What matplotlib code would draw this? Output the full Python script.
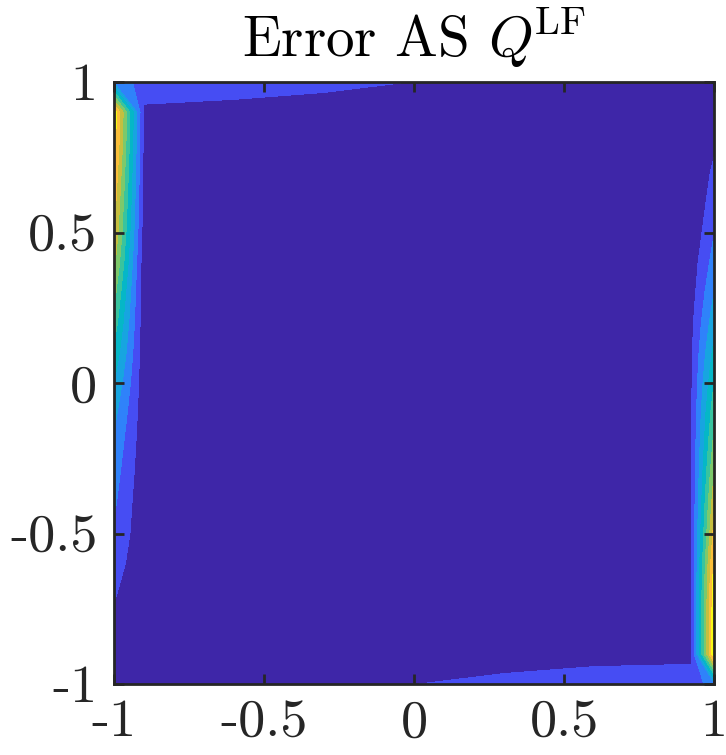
import numpy as np
import matplotlib
matplotlib.use("Agg")
import matplotlib.pyplot as plt
from matplotlib.colors import LinearSegmentedColormap

# ---------------- data ----------------
x_nodes = [-1.0, -0.9, -0.6, -0.3, 0.0, 0.3, 0.6, 0.925, 1.0]
y_nodes = [-1.0, -0.9, -0.8, -0.7, -0.6, -0.5, -0.4, -0.3, -0.2, -0.1, 0.0,
           0.1, 0.2, 0.3, 0.4, 0.5, 0.6, 0.7, 0.8, 0.9, 1.0]

# error values per column (bottom -> top)
err_x_m100 = [0.04, 0.05, 0.07, 0.11, 0.15, 0.185, 0.215, 0.245, 0.28, 0.33, 0.40,
              0.48, 0.56, 0.64, 0.73, 0.80, 0.85, 0.90, 0.95, 0.97, 0.28]
err_x_m090 = [0.01, 0.01, 0.01, 0.01, 0.018, 0.025, 0.023, 0.029, 0.033, 0.035, 0.034,
              0.033, 0.031, 0.026, 0.030, 0.047, 0.061, 0.067, 0.074, 0.082, 0.15]
err_x_m060 = [0.06, 0.02, 0.02, 0.02, 0.02, 0.02, 0.02, 0.02, 0.02, 0.02, 0.02,
              0.02, 0.02, 0.02, 0.02, 0.02, 0.03, 0.04, 0.05, 0.07, 0.141]
err_x_m030 = [0.08, 0.03, 0.02, 0.02, 0.02, 0.02, 0.02, 0.02, 0.02, 0.02, 0.02,
              0.02, 0.02, 0.02, 0.02, 0.02, 0.02, 0.03, 0.04, 0.07, 0.116]
err_x_000 = [0.099, 0.04, 0.02, 0.02, 0.02, 0.02, 0.02, 0.02, 0.02, 0.02, 0.02,
             0.02, 0.02, 0.02, 0.02, 0.02, 0.02, 0.02, 0.03, 0.06, 0.099]
err_x_p030 = [0.116, 0.07, 0.04, 0.03, 0.02, 0.02, 0.02, 0.02, 0.02, 0.02, 0.02,
              0.02, 0.02, 0.02, 0.02, 0.02, 0.02, 0.02, 0.02, 0.04, 0.08]
err_x_p060 = [0.141, 0.07, 0.05, 0.04, 0.03, 0.02, 0.02, 0.02, 0.02, 0.02, 0.02,
              0.02, 0.02, 0.02, 0.02, 0.02, 0.02, 0.02, 0.02, 0.03, 0.06]
err_x_p0925 = [0.115, 0.092, 0.095, 0.095, 0.095, 0.095, 0.095, 0.095, 0.095, 0.094, 0.09,
               0.085, 0.075, 0.055, 0.042, 0.017, 0.0, 0.0, 0.0, 0.0, 0.0]
err_x_p100 = [0.27, 0.99, 0.99, 0.97, 0.92, 0.84, 0.77, 0.70, 0.63, 0.57, 0.50,
              0.43, 0.36, 0.30, 0.24, 0.195, 0.155, 0.12, 0.08, 0.05, 0.04]

contour_levels = [0.0, 0.1, 0.2, 0.3, 0.4, 0.5, 0.6, 0.7, 0.8, 0.9, 1.0]

tick_values = [-1, -0.5, 0, 0.5, 1]
tick_labels = ["-1", "-0.5", "0", "0.5", "1"]
title_text = r"Error AS $Q^{\!\mathrm{LF}}$"

# ---------------- style ----------------
parula_anchors = [
    (0.000, (0.2422, 0.1504, 0.6603)),
    (0.050, (0.2670, 0.2260, 0.8500)),
    (0.111, (0.2760, 0.3050, 0.9560)),
    (0.170, (0.2500, 0.4100, 0.9950)),
    (0.222, (0.1800, 0.5150, 0.9800)),
    (0.280, (0.1500, 0.5900, 0.9200)),
    (0.333, (0.0900, 0.6450, 0.8800)),
    (0.400, (0.0400, 0.6900, 0.8300)),
    (0.444, (0.0200, 0.7200, 0.7800)),
    (0.500, (0.1200, 0.7500, 0.7100)),
    (0.556, (0.2200, 0.7700, 0.6200)),
    (0.611, (0.3500, 0.7900, 0.5200)),
    (0.667, (0.4900, 0.7900, 0.4200)),
    (0.722, (0.6400, 0.7750, 0.3200)),
    (0.778, (0.7700, 0.7500, 0.2500)),
    (0.833, (0.8800, 0.7350, 0.2100)),
    (0.889, (0.9850, 0.7450, 0.2300)),
    (0.944, (0.9700, 0.8600, 0.1600)),
    (1.000, (0.9769, 0.9839, 0.0805)),
]
parula = LinearSegmentedColormap.from_list("parula", parula_anchors)

plt.rcParams["mathtext.fontset"] = "cm"
plt.rcParams["font.family"] = ["cmr10", "DejaVu Serif"]
plt.rcParams["axes.unicode_minus"] = False

X, Y = np.meshgrid(np.array(x_nodes), np.array(y_nodes))
Z = np.column_stack([err_x_m100, err_x_m090, err_x_m060, err_x_m030, err_x_000,
                     err_x_p030, err_x_p060, err_x_p0925, err_x_p100])

fig = plt.figure(figsize=(7.26, 7.55), dpi=100)
ax = fig.add_axes([114 / 726, 71 / 755, 600 / 726, 602 / 755])

# drawn twice to hide anti-aliasing seams between filled bands
for _ in range(2):
    ax.contourf(X, Y, Z, levels=contour_levels, cmap=parula, vmin=0.05, vmax=0.95)

ax.set_xlim(-1, 1)
ax.set_ylim(-1, 1)
ax.set_xticks(tick_values)
ax.set_yticks(tick_values)
ax.set_xticklabels(tick_labels)
ax.set_yticklabels(tick_labels)

edge = "#262626"
for s in ax.spines.values():
    s.set_linewidth(2.0)
    s.set_color(edge)
    s.set_zorder(5)
ax.tick_params(direction="in", length=7, width=2.0, color=edge,
               top=True, right=True, labelsize=39, labelcolor=edge, pad=12)
ax.tick_params(axis="x", pad=11)

ax.set_title(title_text, fontsize=41, color="black", pad=18)

fig.savefig("out.png", dpi=100)
